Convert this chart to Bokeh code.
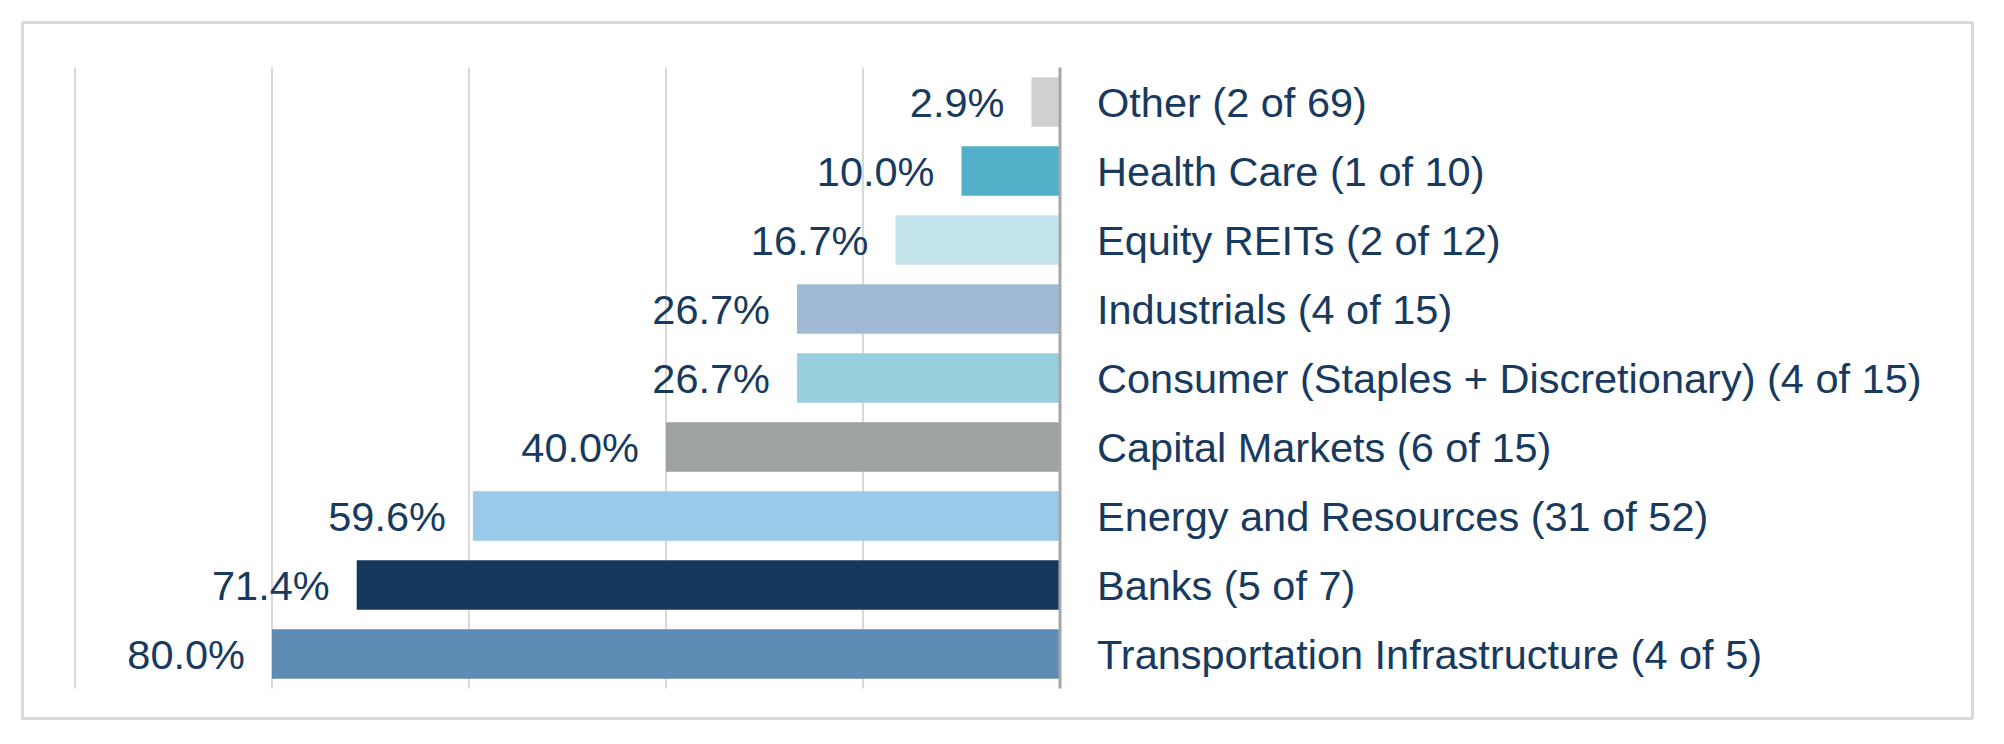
from bokeh.plotting import figure
from bokeh.models import Range1d, ColumnDataSource
from bokeh.core.properties import value
from bokeh.embed import file_html
from bokeh.resources import INLINE

categories = [
    "Other (2 of 69)",
    "Health Care (1 of 10)",
    "Equity REITs (2 of 12)",
    "Industrials (4 of 15)",
    "Consumer (Staples + Discretionary) (4 of 15)",
    "Capital Markets (6 of 15)",
    "Energy and Resources (31 of 52)",
    "Banks (5 of 7)",
    "Transportation Infrastructure (4 of 5)",
]
shares = [0.029, 0.100, 0.167, 0.267, 0.267, 0.400, 0.596, 0.714, 0.800]
colors = ["#CFD0D2", "#52B1C8", "#C2E4EA", "#A0BAD4", "#97D0DC",
          "#9EA2A3", "#99CAEA", "#14385B", "#5F8CB5"]
grid_ticks = [0.0, 0.2, 0.4, 0.6, 0.8, 1.0]

TEXT = "#173A5E"
FONT = "Liberation Sans"

rows = list(range(len(categories)))
labels = [f"{v*100:.1f}%" for v in shares]

src = ColumnDataSource(dict(y=rows, v=shares, zero=[0]*len(rows), c=colors,
                            cat=categories, lab=labels))

p = figure(width=1986, height=726, output_backend="svg", toolbar_location=None,
           x_range=Range1d(1.0533, -0.9264), y_range=Range1d(8.935, -1.152),
           min_border_left=22, min_border_right=14, min_border_top=22, min_border_bottom=8)
p.xaxis.visible = False
p.yaxis.visible = False
p.xgrid.visible = False
p.ygrid.visible = False
p.outline_line_color = "#D9D9D9"
p.outline_line_width = 3
p.background_fill_color = "white"
p.border_fill_color = "white"

# gridlines
p.segment(x0=grid_ticks[1:], x1=grid_ticks[1:], y0=[-0.5]*5, y1=[8.5]*5,
          line_color="#D9D9D9", line_width=2)

p.hbar(y="y", left="v", right="zero", height=0.717, fill_color="c",
       line_color=None, source=src)

# axis line at zero
p.segment(x0=[0], x1=[0], y0=[-0.5], y1=[8.5], line_color="#A6A6A6", line_width=3)

p.text(x="v", y="y", text="lab", source=src, text_align="right", text_baseline="middle",
       x_offset=-27, y_offset=1, text_font=value(FONT), text_font_size="41.5px", text_color=TEXT)
p.text(x="zero", y="y", text="cat", source=src, text_align="left", text_baseline="middle",
       x_offset=37, y_offset=1, text_font=value(FONT), text_font_size="41.5px", text_color=TEXT)

open("out.html", "w").write(file_html(p, INLINE))
